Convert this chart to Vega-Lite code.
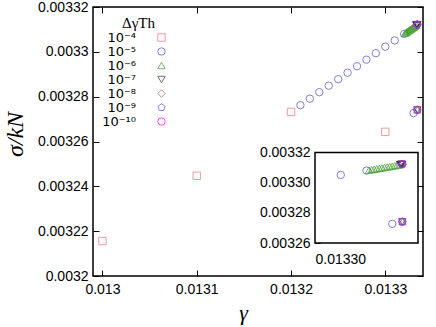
{
  "$schema": "https://vega.github.io/schema/vega-lite/v6.json",
  "width": 330,
  "height": 269,
  "autosize": {"type": "none"},
  "padding": {"left": 93, "top": 7, "right": 13, "bottom": 51},
  "config": {
    "view": {"stroke": "black", "strokeWidth": 1.5},
    "font": "Liberation Sans",
    "axis": {"grid": false, "domain": false, "labelFont": "Liberation Sans", "labelFontSize": 14, "labelColor": "black", "tickColor": "black", "titleColor": "black", "tickWidth": 1}
  },
  "datasets": {
    "pts": [
      {"g": 0.013, "s": 0.0032156, "dg": "10⁻⁴"},
      {"g": 0.0131, "s": 0.0032447, "dg": "10⁻⁴"},
      {"g": 0.0132, "s": 0.0032732, "dg": "10⁻⁴"},
      {"g": 0.0133, "s": 0.0032643, "dg": "10⁻⁴"},
      {"g": 0.01321, "s": 0.0032762, "dg": "10⁻⁵"},
      {"g": 0.01322, "s": 0.0032791, "dg": "10⁻⁵"},
      {"g": 0.01323, "s": 0.003282, "dg": "10⁻⁵"},
      {"g": 0.01324, "s": 0.0032849, "dg": "10⁻⁵"},
      {"g": 0.01325, "s": 0.0032878, "dg": "10⁻⁵"},
      {"g": 0.01326, "s": 0.0032907, "dg": "10⁻⁵"},
      {"g": 0.01327, "s": 0.0032936, "dg": "10⁻⁵"},
      {"g": 0.01328, "s": 0.0032965, "dg": "10⁻⁵"},
      {"g": 0.01329, "s": 0.0032994, "dg": "10⁻⁵"},
      {"g": 0.0133, "s": 0.0033023, "dg": "10⁻⁵"},
      {"g": 0.01331, "s": 0.0033051, "dg": "10⁻⁵"},
      {"g": 0.01332, "s": 0.003308, "dg": "10⁻⁵"},
      {"g": 0.01333, "s": 0.0032727, "dg": "10⁻⁵"},
      {"g": 0.013321, "s": 0.0033083, "dg": "10⁻⁶"},
      {"g": 0.013322, "s": 0.0033086, "dg": "10⁻⁶"},
      {"g": 0.013323, "s": 0.0033089, "dg": "10⁻⁶"},
      {"g": 0.013324, "s": 0.0033092, "dg": "10⁻⁶"},
      {"g": 0.013325, "s": 0.0033095, "dg": "10⁻⁶"},
      {"g": 0.013326, "s": 0.0033098, "dg": "10⁻⁶"},
      {"g": 0.013327, "s": 0.0033101, "dg": "10⁻⁶"},
      {"g": 0.013328, "s": 0.0033104, "dg": "10⁻⁶"},
      {"g": 0.013329, "s": 0.0033107, "dg": "10⁻⁶"},
      {"g": 0.01333, "s": 0.003311, "dg": "10⁻⁶"},
      {"g": 0.013331, "s": 0.0033113, "dg": "10⁻⁶"},
      {"g": 0.013332, "s": 0.0033116, "dg": "10⁻⁶"},
      {"g": 0.013333, "s": 0.0033119, "dg": "10⁻⁶"},
      {"g": 0.013334, "s": 0.0032741, "dg": "10⁻⁶"},
      {"g": 0.0133331, "s": 0.0033119, "dg": "10⁻⁷"},
      {"g": 0.0133332, "s": 0.0033119, "dg": "10⁻⁷"},
      {"g": 0.0133333, "s": 0.003312, "dg": "10⁻⁷"},
      {"g": 0.0133334, "s": 0.003312, "dg": "10⁻⁷"},
      {"g": 0.0133335, "s": 0.003312, "dg": "10⁻⁷"},
      {"g": 0.0133336, "s": 0.003312, "dg": "10⁻⁷"},
      {"g": 0.0133337, "s": 0.0033121, "dg": "10⁻⁷"},
      {"g": 0.0133338, "s": 0.0033121, "dg": "10⁻⁷"},
      {"g": 0.0133339, "s": 0.0032741, "dg": "10⁻⁷"},
      {"g": 0.01333382, "s": 0.0033121, "dg": "10⁻⁸"},
      {"g": 0.01333385, "s": 0.0033122, "dg": "10⁻⁸"},
      {"g": 0.01333388, "s": 0.0033122, "dg": "10⁻⁸"},
      {"g": 0.01333389, "s": 0.0032741, "dg": "10⁻⁸"},
      {"g": 0.013333882, "s": 0.0033122, "dg": "10⁻⁹"},
      {"g": 0.013333885, "s": 0.0033122, "dg": "10⁻⁹"},
      {"g": 0.013333886, "s": 0.0032741, "dg": "10⁻⁹"},
      {"g": 0.0133338855, "s": 0.0033122, "dg": "10⁻¹⁰"},
      {"g": 0.0133338858, "s": 0.0032741, "dg": "10⁻¹⁰"}
    ]
  },
  "layer": [
    {
      "data": {"name": "pts"},
      "layer": [
        {
          "mark": {"type": "point", "filled": false, "size": 55},
          "encoding": {
            "x": {"field": "g", "type": "quantitative",
              "scale": {"domain": [0.01299, 0.01334], "nice": false, "zero": false},
              "axis": {"orient": "bottom", "values": [0.013, 0.0131, 0.0132, 0.0133], "format": "~g", "tickSize": -6, "labelPadding": 12,
                "title": "γ", "titleFont": "Liberation Serif", "titleFontStyle": "italic", "titleFontWeight": "normal", "titleFontSize": 22, "titleX": 150, "titlePadding": 6}},
            "y": {"field": "s", "type": "quantitative",
              "scale": {"domain": [0.0032, 0.00332], "nice": false, "zero": false},
              "axis": {"orient": "left", "values": [0.0032, 0.00322, 0.00324, 0.00326, 0.00328, 0.0033, 0.00332], "format": "~g", "tickSize": -6, "labelPadding": 11,
                "title": "σ/kN", "titleFont": "Liberation Serif", "titleFontStyle": "italic", "titleFontWeight": "normal", "titleFontSize": 24, "titleX": -66, "titleY": 127}},
            "shape": {"field": "dg", "type": "nominal",
              "scale": {"domain": ["10⁻⁴", "10⁻⁵", "10⁻⁶", "10⁻⁷", "10⁻⁸", "10⁻⁹", "10⁻¹⁰"],
                "range": ["square", "circle", "triangle-up", "triangle-down", "diamond", "M0,-1L0.951,-0.309L0.588,0.809L-0.588,0.809L-0.951,-0.309Z", "circle"]},
              "legend": {"orient": "none", "legendX": 29, "legendY": 9, "title": "ΔγTh", "titleAnchor": "start", "titleAlign": "right", "titleFont": "Liberation Serif", "titleFontSize": 15, "titleFontWeight": "normal", "titleColor": "black", "titlePadding": 0, "labelAlign": "right", "labelOffset": -32, "labelFontSize": 13, "labelColor": "black", "labelFont": "DejaVu Sans", "symbolSize": 55, "rowPadding": 0}},
            "color": {"field": "dg", "type": "nominal",
              "scale": {"domain": ["10⁻⁴", "10⁻⁵", "10⁻⁶", "10⁻⁷", "10⁻⁸", "10⁻⁹", "10⁻¹⁰"],
                "range": ["#f07070", "#4b4bc3", "#3c9a28", "#333333", "#b85a5a", "#4f4fff", "#ee00ee"]},
              "legend": {"orient": "none", "legendX": 29, "legendY": 9, "title": "ΔγTh", "titleAnchor": "start", "titleAlign": "right", "titleFont": "Liberation Serif", "titleFontSize": 15, "titleFontWeight": "normal", "titleColor": "black", "titlePadding": 0, "labelAlign": "right", "labelOffset": -32, "labelFontSize": 13, "labelColor": "black", "labelFont": "DejaVu Sans", "symbolSize": 55, "rowPadding": 0}},
            "strokeWidth": {"field": "dg", "type": "nominal",
              "scale": {"domain": ["10⁻⁴", "10⁻⁵", "10⁻⁶", "10⁻⁷", "10⁻⁸", "10⁻⁹", "10⁻¹⁰"], "range": [1, 1, 1, 1, 1, 1, 2]},
              "legend": null}
          }
        },
        {
          "mark": {"type": "point", "opacity": 0},
          "encoding": {
            "x": {"field": "g", "type": "quantitative",
              "axis": {"orient": "top", "values": [0.013, 0.0131, 0.0132, 0.0133], "labels": false, "tickSize": -6, "title": null}},
            "y": {"field": "s", "type": "quantitative",
              "axis": {"orient": "right", "values": [0.0032, 0.00322, 0.00324, 0.00326, 0.00328, 0.0033, 0.00332], "labels": false, "tickSize": -6, "title": null}}
          }
        }
      ]
    },
    {
      "layer": [
        {
          "data": {"values": [{}]},
          "mark": {"type": "rect", "fill": "white", "stroke": "black", "strokeWidth": 1.5},
          "encoding": {
            "x": {"datum": 0.0133, "type": "quantitative",
              "scale": {"domain": [0.0133, 0.01334], "range": [222, 325], "nice": false, "zero": false},
              "axis": {"orient": "bottom", "offset": -33, "values": [0.0133], "format": ".5f", "tickSize": -5, "labelPadding": 14, "title": null}},
            "x2": {"datum": 0.01334},
            "y": {"datum": 0.00326, "type": "quantitative",
              "scale": {"domain": [0.00326, 0.00332], "range": [236, 145.5], "nice": false, "zero": false},
              "axis": {"orient": "left", "offset": -222, "values": [0.00326, 0.00328, 0.0033, 0.00332], "format": ".5f", "tickSize": -5, "labelPadding": 10, "title": null}},
            "y2": {"datum": 0.00332}
          }
        },
        {
          "data": {"name": "pts"},
          "transform": [{"filter": "datum.g >= 0.013305"}],
          "mark": {"type": "point", "filled": false, "size": 55},
          "encoding": {
            "x": {"field": "g", "type": "quantitative"},
            "y": {"field": "s", "type": "quantitative"},
            "shape": {"field": "dg", "type": "nominal",
              "scale": {"domain": ["10⁻⁴", "10⁻⁵", "10⁻⁶", "10⁻⁷", "10⁻⁸", "10⁻⁹", "10⁻¹⁰"],
                "range": ["square", "circle", "triangle-up", "triangle-down", "diamond", "M0,-1L0.951,-0.309L0.588,0.809L-0.588,0.809L-0.951,-0.309Z", "circle"]},
              "legend": {"orient": "none", "legendX": 29, "legendY": 9, "title": "ΔγTh", "titleAnchor": "start", "titleAlign": "right", "titleFont": "Liberation Serif", "titleFontSize": 15, "titleFontWeight": "normal", "titleColor": "black", "titlePadding": 0, "labelAlign": "right", "labelOffset": -32, "labelFontSize": 13, "labelColor": "black", "labelFont": "DejaVu Sans", "symbolSize": 55, "rowPadding": 0}},
            "color": {"field": "dg", "type": "nominal",
              "scale": {"domain": ["10⁻⁴", "10⁻⁵", "10⁻⁶", "10⁻⁷", "10⁻⁸", "10⁻⁹", "10⁻¹⁰"],
                "range": ["#f07070", "#4b4bc3", "#3c9a28", "#333333", "#b85a5a", "#4f4fff", "#ee00ee"]},
              "legend": {"orient": "none", "legendX": 29, "legendY": 9, "title": "ΔγTh", "titleAnchor": "start", "titleAlign": "right", "titleFont": "Liberation Serif", "titleFontSize": 15, "titleFontWeight": "normal", "titleColor": "black", "titlePadding": 0, "labelAlign": "right", "labelOffset": -32, "labelFontSize": 13, "labelColor": "black", "labelFont": "DejaVu Sans", "symbolSize": 55, "rowPadding": 0}},
            "strokeWidth": {"field": "dg", "type": "nominal",
              "scale": {"domain": ["10⁻⁴", "10⁻⁵", "10⁻⁶", "10⁻⁷", "10⁻⁸", "10⁻⁹", "10⁻¹⁰"], "range": [1, 1, 1, 1, 1, 1, 2]},
              "legend": null}
          }
        }
      ]
    }
  ],
  "resolve": {"scale": {"x": "independent", "y": "independent"}}
}
